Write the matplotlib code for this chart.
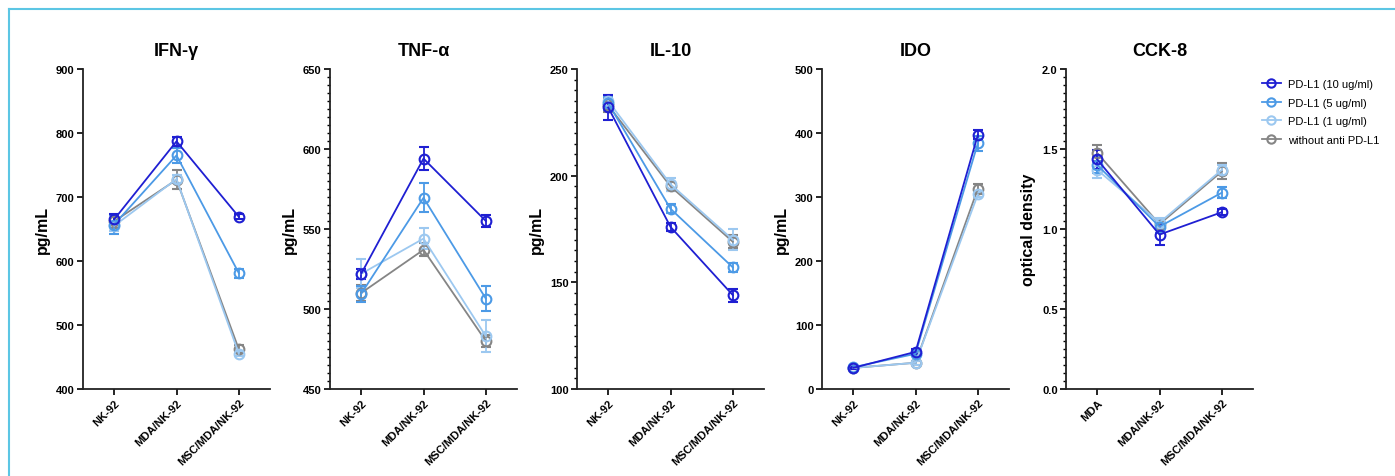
import numpy as np
import matplotlib
matplotlib.use("Agg")
import matplotlib.pyplot as plt
from matplotlib.lines import Line2D
from matplotlib.ticker import MultipleLocator, FormatStrFormatter

plt.rcParams['font.family'] = ['Liberation Sans', 'DejaVu Sans']

#====================================================================================================
## data (mean, error)
groups_nk = ["NK-92", "MDA/NK-92", "MSC/MDA/NK-92"]
groups_cck = ["MDA", "MDA/NK-92", "MSC/MDA/NK-92"]
series = ["PD-L1 (10 ug/ml)", "PD-L1 (5 ug/ml)", "PD-L1 (1 ug/ml)", "without anti PD-L1"]

ifn_mean = [[665, 787, 669], [657, 765, 581], [655, 728, 455], [662, 727, 462]]
ifn_err = [[8, 7, 4], [15, 12, 7], [8, 6, 4], [10, 15, 6]]

tnf_mean = [[522, 594, 555], [509.5, 569.5, 506.5], [522, 544, 483], [510, 537, 480]]
tnf_err = [[3, 7, 4], [5, 9, 8], [9, 6.5, 10], [5, 4, 4]]

il10_mean = [[232, 176, 144], [234, 184.5, 157], [235, 196, 170], [233, 195, 169]]
il10_err = [[6, 2, 3], [3, 2, 2], [3, 3, 5], [3, 2, 3]]

ido_mean = [[33, 58, 397], [34, 55, 384], [33, 41, 304], [33, 41, 313]]
ido_err = [[2, 4, 7], [2, 3, 12], [2, 3, 4], [2, 3, 8]]

cck_mean = [[1.435, 0.965, 1.105], [1.40, 1.015, 1.227], [1.37, 1.04, 1.37], [1.475, 1.03, 1.36]]
cck_err = [[0.06, 0.065, 0.02], [0.05, 0.04, 0.035], [0.05, 0.03, 0.03], [0.05, 0.03, 0.05]]

colors = ["#1f1fd2", "#4c9ae6", "#9cc8f0", "#858585"]

panels = [
    ("IFN-γ", groups_nk, ifn_mean, ifn_err, (400, 900), 100, None, "pg/mL"),
    ("TNF-α", groups_nk, tnf_mean, tnf_err, (450, 650), 50, 5, "pg/mL"),
    ("IL-10", groups_nk, il10_mean, il10_err, (100, 250), 50, 5, "pg/mL"),
    ("IDO", groups_nk, ido_mean, ido_err, (0, 500), 100, None, "pg/mL"),
    ("CCK-8", groups_cck, cck_mean, cck_err, (0, 2.0), 0.5, 0.05, "optical density"),
]

#====================================================================================================
W, H = 1395, 477
fig = plt.figure(figsize=(W / 100, H / 100), dpi=100)

lefts = [83, 330, 577, 822, 1066]
ax_w = 187
top, bottom = 70, 390

for (title, groups, means, errs, ylim, major, minor, ylabel), lx in zip(panels, lefts):
    ax = fig.add_axes([lx / W, (H - bottom) / H, ax_w / W, (bottom - top) / H])
    x = np.arange(len(groups))
    # draw grey first so the 10 ug/ml series ends up on top
    for i in reversed(range(len(series))):
        ax.errorbar(x, means[i], yerr=errs[i], color=colors[i], lw=1.3,
                    marker='o', ms=7, mfc='none', mew=1.5, capsize=3.5,
                    elinewidth=1.3, capthick=1.3, label=series[i])
    ax.set_xlim(-0.5, 2.5)
    ax.set_ylim(*ylim)
    ax.yaxis.set_major_locator(MultipleLocator(major))
    if minor:
        ax.yaxis.set_minor_locator(MultipleLocator(minor))
    if title == "CCK-8":
        ax.yaxis.set_major_formatter(FormatStrFormatter('%.1f'))
    ax.set_xticks(x)
    ax.set_xticklabels(groups, rotation=45, ha='right', rotation_mode='anchor',
                       fontsize=8, fontweight='bold')
    for lab in ax.get_yticklabels():
        lab.set_fontweight('bold')
        lab.set_fontsize(8)
    ax.tick_params(which='major', direction='out', length=4, width=1.2, pad=2)
    ax.tick_params(which='minor', direction='out', length=2.5, width=1.0)
    for s in ['top', 'right']:
        ax.spines[s].set_visible(False)
    for s in ['left', 'bottom']:
        ax.spines[s].set_linewidth(1.3)
        ax.spines[s].set_color('#222222')
    ax.set_title(title, fontsize=13, fontweight='bold', pad=10)
    ax.set_ylabel(ylabel, fontsize=11.5, fontweight='bold', labelpad=4)

# legend (series order 10, 5, 1, without)
handles = [Line2D([0], [0], color=c, lw=1.3, marker='o', ms=6, mfc='none', mew=1.5)
           for c in colors]
fig.legend(handles, series, loc='upper left', bbox_to_anchor=(1262 / W, (H - 80) / H),
           frameon=False, fontsize=8, handlelength=1.7, handletextpad=0.6,
           labelspacing=0.78, borderpad=0, borderaxespad=0)

# thin cyan frame (top and left edges)
fig.add_artist(Line2D([8.5 / W, 1], [1 - 10 / H, 1 - 10 / H], color='#5cc6e4', lw=1.5,
                      transform=fig.transFigure))
fig.add_artist(Line2D([8.5 / W, 8.5 / W], [0, 1 - 10 / H], color='#5cc6e4', lw=1.5,
                      transform=fig.transFigure))

fig.savefig("out.png", dpi=100)
